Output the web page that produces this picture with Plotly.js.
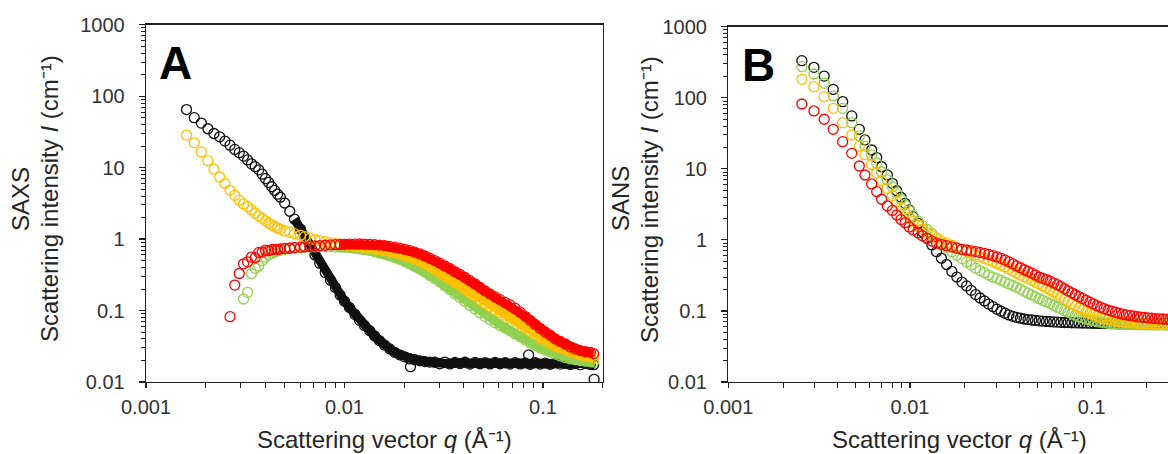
<!DOCTYPE html>
<html><head><meta charset="utf-8">
<script src="https://cdn.plot.ly/plotly-3.0.1.min.js"></script>
<style>html,body{margin:0;padding:0;background:#fff;} #chart{width:1168px;height:454px;}</style>
</head><body><div id="chart"></div>
<script>
// ---------------- Panel A (SAXS) ----------------
// low-q points (shared q values), null = no point
const qA_low = [0.00160, 0.00175, 0.00190, 0.00205, 0.00220, 0.00235, 0.00250, 0.00265, 0.00280, 0.00295,
  0.00310, 0.00325, 0.00340, 0.00355, 0.00370, 0.00385, 0.00400, 0.00415, 0.00430, 0.00445,
  0.00460, 0.00475];
const IA_black_low = [65, 50, 42, 35, 30, 27, 23.5, 20.6, 18, 16.2,
  14.5, 12.8, 11.3, 10.3, 9.3, 8.1, 7.0, 6.2, 5.4, 4.8,
  4.25, 3.85];
const IA_yellow_low = [28.5, 22.2, 16.6, 12.5, 9.5, 7.4, 6.0, 4.85, 4.1, 3.5,
  3.1, 2.85, 2.55, 2.3, 2.1, 1.95, 1.8, 1.68, 1.58, 1.5,
  1.43, 1.37];
const IA_green_low = [null, null, null, null, null, null, null, null, null, null,
  0.145, 0.18, 0.33, 0.39, 0.42, 0.5, 0.56, 0.6, 0.63, 0.66,
  0.68, 0.70];
const IA_red_low = [null, null, null, null, null, null, null, 0.082, 0.227, 0.33,
  0.45, 0.48, 0.56, 0.55, 0.65, 0.66, 0.70, 0.69, 0.71, 0.72,
  0.72, 0.73];

// dense part (q values shared by all four series)
const qA_dense = [0.0050, 0.0053, 0.0056, 0.0060, 0.0063, 0.0067, 0.0071, 0.0075, 0.0080, 0.0085,
  0.0090, 0.0095, 0.0100, 0.0106, 0.0113, 0.0119, 0.0126, 0.0134, 0.0142, 0.0150,
  0.0159, 0.0169, 0.0179, 0.0190, 0.0201, 0.0213, 0.0226, 0.0240, 0.0254, 0.0269,
  0.0285, 0.0302, 0.0320, 0.0340, 0.0360, 0.0382, 0.0405, 0.0429, 0.0455, 0.0482,
  0.0511, 0.0541, 0.0574, 0.0608, 0.0645, 0.0683, 0.0724, 0.0768, 0.0814, 0.0862,
  0.0914, 0.0969, 0.1027, 0.1088, 0.1154, 0.1223, 0.1296, 0.1374, 0.1456, 0.1544,
  0.1636, 0.1734, 0.1800];
const IA_black_dense = [3.2, 2.45, 1.9, 1.38, 1.08, 0.80, 0.60, 0.46, 0.34, 0.265,
  0.21, 0.165, 0.135, 0.11, 0.088, 0.073, 0.062, 0.052, 0.044, 0.038,
  0.033, 0.029, 0.026, 0.024, 0.0225, 0.021, 0.0205, 0.0198, 0.0193, 0.019,
  0.0189, 0.0180, 0.0190, 0.0179, 0.0188, 0.0181, 0.0189, 0.0178, 0.0188, 0.0180,
  0.0187, 0.0179, 0.0188, 0.0180, 0.0186, 0.0178, 0.0187, 0.0179, 0.0185, 0.0177,
  0.0186, 0.0178, 0.0184, 0.0177, 0.0185, 0.0178, 0.0183, 0.0176, 0.0182, 0.0175,
  0.0181, 0.0176, 0.0175];
const IA_yellow_dense = [1.30, 1.25, 1.19, 1.13, 1.08, 1.03, 0.99, 0.95, 0.92, 0.89,
  0.865, 0.845, 0.83, 0.815, 0.80, 0.785, 0.77, 0.755, 0.735, 0.715,
  0.69, 0.67, 0.645, 0.62, 0.59, 0.56, 0.525, 0.49, 0.455, 0.415,
  0.375, 0.34, 0.305, 0.275, 0.245, 0.22, 0.197, 0.176, 0.157, 0.14,
  0.125, 0.113, 0.103, 0.094, 0.086, 0.079, 0.072, 0.065, 0.058, 0.051,
  0.046, 0.041, 0.0375, 0.0345, 0.032, 0.030, 0.028, 0.0265, 0.0252, 0.024,
  0.023, 0.0225, 0.022];
const IA_green_dense = [0.72, 0.735, 0.75, 0.76, 0.77, 0.775, 0.78, 0.785, 0.785, 0.785,
  0.78, 0.775, 0.77, 0.76, 0.745, 0.73, 0.71, 0.69, 0.665, 0.64,
  0.615, 0.585, 0.555, 0.52, 0.485, 0.45, 0.415, 0.38, 0.345, 0.31,
  0.28, 0.25, 0.222, 0.196, 0.172, 0.152, 0.134, 0.118, 0.105, 0.093,
  0.083, 0.075, 0.068, 0.062, 0.057, 0.052, 0.047, 0.043, 0.039, 0.0355,
  0.0325, 0.030, 0.028, 0.0262, 0.0246, 0.0232, 0.022, 0.021, 0.0205, 0.020,
  0.0195, 0.0192, 0.019];
const IA_red_dense = [0.74, 0.75, 0.76, 0.77, 0.78, 0.79, 0.80, 0.81, 0.82, 0.83,
  0.835, 0.84, 0.845, 0.85, 0.852, 0.853, 0.852, 0.845, 0.835, 0.825,
  0.81, 0.79, 0.77, 0.745, 0.72, 0.69, 0.655, 0.62, 0.58, 0.54,
  0.50, 0.46, 0.42, 0.385, 0.35, 0.32, 0.29, 0.262, 0.235, 0.21,
  0.188, 0.17, 0.155, 0.142, 0.13, 0.12, 0.108, 0.095, 0.083, 0.073,
  0.064, 0.056, 0.050, 0.045, 0.040, 0.037, 0.034, 0.031, 0.029, 0.0275,
  0.0265, 0.026, 0.025];
// isolated black points
const qA_black_extra = [0.0215, 0.0847, 0.181];
const IA_black_extra = [0.0164, 0.0239, 0.0109];

// ---------------- Panel B (SANS) ----------------
const qB = [0.00254, 0.00296, 0.00337, 0.00378, 0.00426, 0.00478, 0.00526, 0.00565, 0.00615, 0.00656,
  0.00698, 0.0075, 0.0080, 0.00845, 0.00892, 0.00939, 0.0099, 0.0104, 0.0111, 0.0117,
  0.0124, 0.0132, 0.0140, 0.0149, 0.0159, 0.0170, 0.0181, 0.0193, 0.0205, 0.0217,
  0.0230, 0.0243, 0.0257, 0.0271, 0.0286, 0.0301, 0.0317, 0.0333, 0.0350, 0.0368,
  0.0386, 0.0405, 0.0425, 0.0446, 0.0468, 0.0490, 0.0514, 0.0538, 0.0563, 0.0590,
  0.0618, 0.0647, 0.0677, 0.0709, 0.0742, 0.0777, 0.0813, 0.0851, 0.0891, 0.0933,
  0.0977, 0.102, 0.107, 0.112, 0.117, 0.123, 0.129, 0.135, 0.141, 0.148,
  0.155, 0.162, 0.170, 0.178, 0.186, 0.195, 0.204, 0.214, 0.224, 0.235,
  0.246, 0.258, 0.270];
const IB_black = [333, 268, 202, 131, 88, 55.5, 36, 25.5, 18.4, 14.4,
  10.7, 8.2, 6.25, 4.92, 3.98, 3.27, 2.64, 2.12, 1.71, 1.30,
  1.05, 0.848, 0.682, 0.551, 0.45, 0.36, 0.30, 0.255, 0.225, 0.195,
  0.170, 0.152, 0.138, 0.125, 0.115, 0.106, 0.099, 0.093, 0.088, 0.084,
  0.081, 0.079, 0.077, 0.0755, 0.0745, 0.0735, 0.0725, 0.0718, 0.0712, 0.0706,
  0.070, 0.0696, 0.0692, 0.0688, 0.0685, 0.0682, 0.068, 0.0678, 0.0676, 0.0674,
  0.0672, 0.067, 0.0668, 0.0667, 0.0666, 0.0665, 0.0664, 0.0663, 0.0662, 0.0661,
  0.066, 0.066, 0.066, 0.066, 0.066, 0.066, 0.066, 0.066, 0.066, 0.066,
  0.066, 0.066, 0.066];
const IB_green = [274, 216, 160, 106, 71, 44.6, 29, 20.9, 15.7, 12,
  9.1, 6.97, 5.6, 4.62, 3.73, 3.1, 2.58, 2.2, 1.85, 1.6,
  1.4, 1.22, 1.05, 0.9, 0.78, 0.68, 0.61, 0.545, 0.49, 0.445,
  0.40, 0.37, 0.345, 0.32, 0.30, 0.285, 0.27, 0.255, 0.24, 0.228,
  0.215, 0.203, 0.19, 0.178, 0.168, 0.158, 0.149, 0.141, 0.134, 0.127,
  0.12, 0.113, 0.107, 0.101, 0.096, 0.091, 0.087, 0.083, 0.08, 0.077,
  0.075, 0.073, 0.071, 0.0695, 0.068, 0.067, 0.066, 0.0655, 0.065, 0.0645,
  0.0645, 0.064, 0.064, 0.064, 0.0638, 0.0638, 0.0636, 0.0636, 0.0635, 0.0635,
  0.0635, 0.0634, 0.0634];
const IB_yellow = [182, 143, 103.5, 71, 44.6, 29.9, 20.9, 15.8, 11.5, 8.7,
  6.9, 5.3, 4.2, 3.45, 2.85, 2.42, 2.08, 1.82, 1.6, 1.42,
  1.27, 1.15, 1.05, 0.96, 0.9, 0.84, 0.78, 0.73, 0.69, 0.65,
  0.61, 0.575, 0.545, 0.515, 0.49, 0.465, 0.44, 0.415, 0.39, 0.365,
  0.34, 0.32, 0.30, 0.285, 0.27, 0.255, 0.24, 0.225, 0.21, 0.197,
  0.183, 0.17, 0.158, 0.147, 0.137, 0.127, 0.118, 0.11, 0.103, 0.097,
  0.092, 0.088, 0.084, 0.081, 0.078, 0.076, 0.074, 0.072, 0.071, 0.07,
  0.069, 0.068, 0.0675, 0.067, 0.0668, 0.0665, 0.0663, 0.066, 0.0658, 0.0656,
  0.0655, 0.0654, 0.0653];
const IB_red = [81.7, 65.2, 49.8, 36, 24.1, 16.5, 10.96, 8.19, 6.12, 4.77,
  3.73, 3.0, 2.6, 2.24, 1.93, 1.74, 1.52, 1.38, 1.25, 1.14,
  1.05, 0.96, 0.9, 0.86, 0.83, 0.795, 0.765, 0.735, 0.72, 0.70,
  0.685, 0.665, 0.645, 0.625, 0.60, 0.575, 0.55, 0.52, 0.49, 0.46,
  0.43, 0.405, 0.38, 0.36, 0.34, 0.32, 0.30, 0.288, 0.275, 0.262,
  0.248, 0.234, 0.22, 0.205, 0.192, 0.18, 0.169, 0.159, 0.15, 0.141,
  0.133, 0.126, 0.119, 0.113, 0.108, 0.103, 0.099, 0.096, 0.093, 0.09,
  0.088, 0.086, 0.085, 0.083, 0.082, 0.081, 0.08, 0.079, 0.078, 0.0775,
  0.077, 0.0765, 0.076];

// tick labels and titles
const xTickVals = [0.001, 0.01, 0.1];
const xTickText = ['0.001', '0.01', '0.1'];
const yTickVals = [0.01, 0.1, 1, 10, 100, 1000];
const yTickText = ['0.01', '0.1', '1', '10', '100', '1000'];
const xTitle = 'Scattering vector <i>q</i> (Å\u207B\u00B9)';
const yTitle = 'Scattering intensity <i>I</i> (cm\u207B\u00B9)';
const panelTech = ['SAXS', 'SANS'];
const panelLetters = ['A', 'B'];

const COLORS = {black: '#111111', yellow: '#FFC000', green: '#92D050', red: '#FF0000'};
const FONT = 'Liberation Sans, Arial, Helvetica, sans-serif';
const W = 1168, H = 454;

function minorVals(lo, hi) {
  const v = [];
  for (let d = lo; d <= hi; d++) for (let k = 2; k <= 9; k++) v.push(k * Math.pow(10, d));
  return v;
}

function marks(x, y, color, xa, ya) {
  return {type: 'scatter', mode: 'markers', x: x, y: y, xaxis: xa, yaxis: ya,
    marker: {symbol: 'circle-open', size: 10, color: color, line: {width: 1.3, color: color}},
    hoverinfo: 'skip', showlegend: false};
}
function band(x, y, color, qmin, xa, ya) {
  const bx = [], by = [];
  for (let i = 0; i < x.length; i++) if (x[i] >= qmin && y[i] != null) { bx.push(x[i]); by.push(y[i]); }
  return {type: 'scatter', mode: 'lines', x: bx, y: by, xaxis: xa, yaxis: ya,
    line: {color: color, width: 9, shape: 'linear'}, hoverinfo: 'skip', showlegend: false};
}

const qA = qA_low.concat(qA_dense);
const seriesA = [
  ['black', IA_black_low.concat(IA_black_dense), 0.0056],
  ['green', IA_green_low.concat(IA_green_dense), 0.0095],
  ['yellow', IA_yellow_low.concat(IA_yellow_dense), 0.0095],
  ['red', IA_red_low.concat(IA_red_dense), 0.0095]
];
const traces = [];
seriesA.forEach(function (s) {
  traces.push(band(qA, s[1], COLORS[s[0]], s[2], 'x', 'y'));
  traces.push(marks(qA, s[1], COLORS[s[0]], 'x', 'y'));
  if (s[0] === 'black') traces.push(marks(qA_black_extra, IA_black_extra, COLORS.black, 'x', 'y'));
});
[['black', IB_black], ['green', IB_green], ['yellow', IB_yellow], ['red', IB_red]].forEach(function (s) {
  traces.push(marks(qB, s[1], COLORS[s[0]], 'x2', 'y2'));
});

const tickFont = {family: FONT, size: 20, color: '#333333'};
function xAxis(domain, range, anchor) {
  return {type: 'log', domain: domain, range: range, anchor: anchor,
    showline: true, linecolor: '#222', linewidth: 1.3, mirror: true,
    showgrid: false, zeroline: false,
    ticks: 'outside', ticklen: 5, tickwidth: 1.2, tickcolor: '#222',
    tickmode: 'array', tickvals: xTickVals, ticktext: xTickText,
    tickfont: tickFont, ticklabelstandoff: 2,
    minor: {tickmode: 'array', tickvals: minorVals(-3, -1), ticks: 'outside', ticklen: 5, tickwidth: 1, tickcolor: '#222', showgrid: false}};
}
function yAxis(domain, anchor, mirror) {
  return {type: 'log', domain: domain, range: [-2, 3], anchor: anchor,
    showline: true, linecolor: '#222', linewidth: 1.3, mirror: mirror,
    showgrid: false, zeroline: false,
    ticks: 'outside', ticklen: 6, tickwidth: 1.2, tickcolor: '#222',
    tickmode: 'array', tickvals: yTickVals, ticktext: yTickText,
    tickfont: tickFont, ticklabelstandoff: 10,
    minor: {tickmode: 'array', tickvals: minorVals(-2, 2), ticks: 'outside', ticklen: 4, tickwidth: 1, tickcolor: '#222', showgrid: false}};
}

function ann(text, X, Y, size, opts) {
  return Object.assign({text: text, xref: 'paper', yref: 'paper', x: X / W, y: 1 - Y / H,
    xanchor: 'center', yanchor: 'middle', showarrow: false,
    font: {family: FONT, size: size, color: '#262626'}}, opts || {});
}

const layout = {
  width: W, height: H,
  margin: {l: 0, r: 0, t: 0, b: 0},
  paper_bgcolor: '#ffffff', plot_bgcolor: '#ffffff',
  font: {family: FONT},
  showlegend: false,
  xaxis: xAxis([146 / W, 602.7 / W], [-3, Math.log10(0.2)], 'y'),
  yaxis: yAxis([(H - 382) / H, (H - 24.7) / H], 'x', true),
  xaxis2: xAxis([728.3 / W, 1], [-3, -3 + (W - 728.3) / 181.7], 'y2'),
  yaxis2: yAxis([(H - 382) / H, (H - 26.7) / H], 'x2', false),
  annotations: [
    ann(panelLetters[0], 175, 63, 46, {font: {family: FONT, size: 46, color: '#000', weight: 'bold'}}),
    ann(panelLetters[1], 758, 65, 46, {font: {family: FONT, size: 46, color: '#000', weight: 'bold'}}),
    ann(panelTech[0], 21, 199, 24, {textangle: -90}),
    ann(yTitle, 50, 199, 24, {textangle: -90}),
    ann(panelTech[1], 621, 199, 24, {textangle: -90}),
    ann(yTitle, 650, 199, 24, {textangle: -90}),
    ann(xTitle, 384, 439, 24),
    ann(xTitle, 959, 439, 24)
  ]
};

Plotly.newPlot('chart', traces, layout, {staticPlot: true, displayModeBar: false});
</script>
</body></html>
